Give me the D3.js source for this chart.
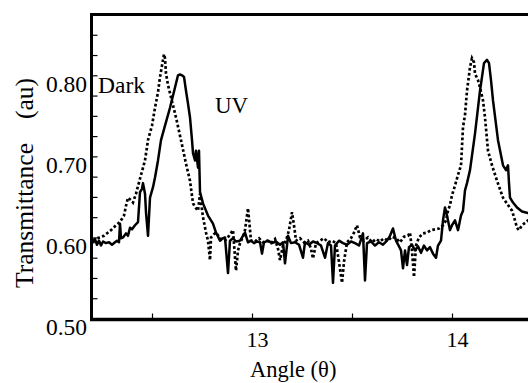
<!DOCTYPE html>
<html>
<head>
<meta charset="utf-8">
<script src="https://cdn.jsdelivr.net/npm/d3@7"></script>
<style>
  html, body { margin: 0; padding: 0; background: #fff; }
  svg { display: block; }
  svg text { font-family: "Liberation Serif", "Times New Roman", "DejaVu Serif", serif; fill: #000; }
</style>
</head>
<body>
<svg id="chart" width="528" height="383"></svg>
<script>
// ---- data ----
const uvAngle = [12.205,12.215,12.225,12.235,12.245,12.255,12.27,12.285,12.3,12.315,12.325,12.335,12.34,12.345,12.355,12.37,12.38,12.39,12.4,12.415,12.43,12.44,12.45,12.455,12.465,12.47,12.48,12.49,12.505,12.515,12.53,12.545,12.565,12.59,12.615,12.63,12.64,12.65,12.66,12.67,12.68,12.69,12.70,12.705,12.715,12.72,12.73,12.735,12.74,12.755,12.78,12.805,12.82,12.84,12.855,12.865,12.88,12.89,12.905,12.92,12.94,12.955,12.965,12.98,12.995,13.01,13.025,13.04,13.05,13.06,13.08,13.10,13.12,13.14,13.155,13.165,13.175,13.18,13.195,13.215,13.235,13.255,13.265,13.285,13.305,13.325,13.345,13.365,13.38,13.395,13.405,13.415,13.435,13.455,13.475,13.495,13.515,13.535,13.555,13.565,13.575,13.595,13.615,13.635,13.655,13.675,13.69,13.705,13.72,13.735,13.745,13.755,13.765,13.775,13.785,13.80,13.815,13.83,13.845,13.86,13.875,13.89,13.905,13.92,13.93,13.945,13.955,13.965,13.975,13.99,14.00,14.015,14.03,14.045,14.055,14.065,14.075,14.09,14.115,14.14,14.16,14.175,14.185,14.195,14.205,14.23,14.255,14.27,14.28,14.285,14.29,14.305,14.325,14.35,14.38,14.415];
const uvTrans = [0.593,0.598,0.591,0.596,0.590,0.595,0.593,0.594,0.591,0.594,0.596,0.594,0.617,0.599,0.600,0.605,0.602,0.612,0.610,0.615,0.619,0.656,0.660,0.667,0.654,0.631,0.602,0.649,0.662,0.674,0.695,0.720,0.738,0.760,0.785,0.800,0.801,0.800,0.798,0.781,0.765,0.748,0.720,0.704,0.695,0.707,0.686,0.707,0.656,0.642,0.627,0.617,0.606,0.596,0.599,0.600,0.556,0.596,0.599,0.595,0.596,0.602,0.606,0.594,0.596,0.593,0.595,0.594,0.580,0.594,0.596,0.593,0.595,0.591,0.594,0.568,0.590,0.602,0.593,0.594,0.591,0.575,0.594,0.591,0.595,0.593,0.590,0.575,0.593,0.590,0.544,0.590,0.596,0.593,0.591,0.595,0.593,0.590,0.605,0.547,0.593,0.595,0.590,0.594,0.591,0.596,0.602,0.611,0.596,0.589,0.584,0.562,0.584,0.566,0.588,0.591,0.584,0.589,0.581,0.590,0.584,0.588,0.580,0.575,0.590,0.596,0.621,0.637,0.627,0.609,0.615,0.621,0.609,0.627,0.633,0.658,0.667,0.683,0.728,0.781,0.815,0.819,0.815,0.794,0.769,0.720,0.689,0.683,0.689,0.667,0.649,0.643,0.637,0.632,0.630,0.627];

const darkAngle = [12.205,12.225,12.24,12.26,12.28,12.30,12.32,12.34,12.36,12.37,12.38,12.395,12.405,12.42,12.435,12.455,12.465,12.48,12.50,12.515,12.53,12.54,12.55,12.56,12.565,12.57,12.58,12.595,12.62,12.645,12.67,12.69,12.705,12.72,12.73,12.74,12.755,12.77,12.78,12.79,12.795,12.81,12.82,12.84,12.865,12.885,12.905,12.92,12.93,12.94,12.955,12.965,12.98,12.995,13.015,13.035,13.055,13.075,13.095,13.115,13.13,13.14,13.155,13.17,13.185,13.20,13.21,13.22,13.24,13.26,13.28,13.295,13.305,13.32,13.34,13.36,13.38,13.40,13.42,13.435,13.45,13.46,13.475,13.495,13.51,13.525,13.54,13.56,13.58,13.60,13.62,13.64,13.66,13.68,13.70,13.72,13.74,13.76,13.78,13.79,13.80,13.81,13.82,13.835,13.855,13.875,13.895,13.915,13.935,13.955,13.97,13.98,13.99,14.00,14.015,14.03,14.045,14.055,14.065,14.075,14.085,14.09,14.10,14.11,14.115,14.13,14.14,14.155,14.165,14.18,14.20,14.225,14.255,14.28,14.30,14.315,14.325,14.335,14.35,14.365,14.38,14.415];
const darkTrans = [0.596,0.599,0.600,0.602,0.606,0.610,0.615,0.619,0.627,0.639,0.649,0.646,0.643,0.654,0.668,0.686,0.695,0.720,0.738,0.760,0.779,0.798,0.812,0.826,0.821,0.802,0.788,0.773,0.748,0.720,0.691,0.670,0.642,0.636,0.633,0.654,0.625,0.606,0.596,0.572,0.600,0.604,0.606,0.599,0.596,0.602,0.609,0.559,0.584,0.593,0.601,0.609,0.636,0.596,0.595,0.599,0.594,0.596,0.593,0.598,0.586,0.572,0.590,0.596,0.609,0.631,0.615,0.596,0.599,0.594,0.596,0.586,0.574,0.593,0.596,0.599,0.594,0.596,0.593,0.570,0.544,0.570,0.594,0.599,0.606,0.615,0.600,0.596,0.600,0.594,0.598,0.595,0.599,0.596,0.601,0.599,0.594,0.601,0.602,0.606,0.584,0.551,0.590,0.600,0.605,0.606,0.609,0.610,0.611,0.615,0.621,0.633,0.640,0.652,0.664,0.677,0.689,0.736,0.751,0.781,0.800,0.810,0.821,0.816,0.802,0.794,0.785,0.769,0.748,0.707,0.689,0.670,0.649,0.640,0.633,0.621,0.612,0.609,0.615,0.618,0.621,0.619];

const yTickValues = [0.5,0.525,0.55,0.575,0.6,0.625,0.65,0.675,0.7,0.725,0.75,0.775,0.8,0.825,0.85];
const yTickLabels = ["0.50","0.60","0.70","0.80"];
const xTickValues = [12.5,13,13.5,14,14.5];
const xTickLabels = ["13","14"];
const seriesLabels = ["Dark","UV"];
const xTitle = "Angle (θ)";
const yTitleMain = "Transmittance";
const yTitleUnit = "(au)";

// ---- layout ----
const FONT = "Liberation Serif, Times New Roman, DejaVu Serif, serif";
const svg = d3.select("#chart").attr("font-family", FONT);
const mLeft = 91.5, mTop = 14.5, mBottom = 319.5;
const x = d3.scaleLinear().domain([13, 14]).range([252, 452]);
const y = d3.scaleLinear().domain([0.5, 0.875]).range([318.5, 14.5]);

svg.append("defs").append("clipPath").attr("id", "clip")
  .append("rect").attr("x", mLeft).attr("y", mTop).attr("width", 600).attr("height", mBottom - mTop);

const plot = svg.append("g").attr("clip-path", "url(#clip)");

const line = d3.line().x(d => x(d[0])).y(d => y(d[1]));

plot.append("path")
  .datum(darkAngle.map((a, i) => [a, darkTrans[i]]))
  .attr("d", line)
  .attr("fill", "none")
  .attr("stroke", "#000")
  .attr("stroke-width", 2.7)
  .attr("stroke-dasharray", "2.7,2.3")
  .attr("stroke-linejoin", "miter");

plot.append("path")
  .datum(uvAngle.map((a, i) => [a, uvTrans[i]]))
  .attr("d", line)
  .attr("fill", "none")
  .attr("stroke", "#000")
  .attr("stroke-width", 2.5)
  .attr("stroke-linejoin", "round");

// ---- axes ----
const yAxis = d3.axisLeft(y)
  .tickValues(yTickValues)
  .tickSizeInner(-6)
  .tickSizeOuter(0)
  .tickPadding(4.5)
  .tickFormat(d => { const s = d.toFixed(2); return yTickLabels.includes(s) ? s : ""; });

const gy = svg.append("g").attr("transform", `translate(${mLeft},0)`).call(yAxis)
  .attr("font-family", FONT).attr("font-size", 23.5);
gy.select(".domain").attr("stroke-width", 3).attr("d", `M0,${mTop - 1.5}V${mBottom + 1.5}`);
gy.selectAll(".tick line").attr("stroke-width", 1.2);
gy.selectAll(".tick text").attr("dy", "0.68em");

const xAxis = d3.axisBottom(x)
  .tickValues(xTickValues)
  .tickSizeInner(-6)
  .tickSizeOuter(0)
  .tickPadding(11.5)
  .tickFormat(d => { const s = String(d); return xTickLabels.includes(s) ? s : ""; });

const gx = svg.append("g").attr("transform", `translate(0,${mBottom})`).call(xAxis)
  .attr("font-family", FONT).attr("font-size", 22);
gx.select(".domain").attr("stroke-width", 3.5).attr("d", `M${mLeft - 1.5},0H700`);
gx.selectAll(".tick line").attr("stroke-width", 1.2);
gx.selectAll(".tick text").attr("dx", 5);

// top frame line
svg.append("line")
  .attr("x1", mLeft - 1.5).attr("x2", 700)
  .attr("y1", mTop).attr("y2", mTop)
  .attr("stroke", "#000").attr("stroke-width", 3);

// ---- texts ----
svg.append("text").attr("x", 98).attr("y", 93)
  .attr("font-size", 23.5).text(seriesLabels[0]);
svg.append("text").attr("x", 215).attr("y", 113)
  .attr("font-size", 23).text(seriesLabels[1]);

svg.append("text").attr("x", 250).attr("y", 377)
  .attr("font-size", 22.5).text(xTitle);

svg.append("text")
  .attr("transform", "translate(33,288) rotate(-90)")
  .attr("text-anchor", "start")
  .attr("font-size", 25.5).text(yTitleMain);
svg.append("text")
  .attr("transform", "translate(33,78) rotate(-90)")
  .attr("text-anchor", "end")
  .attr("font-size", 25.5).text(yTitleUnit);
</script>
</body>
</html>
